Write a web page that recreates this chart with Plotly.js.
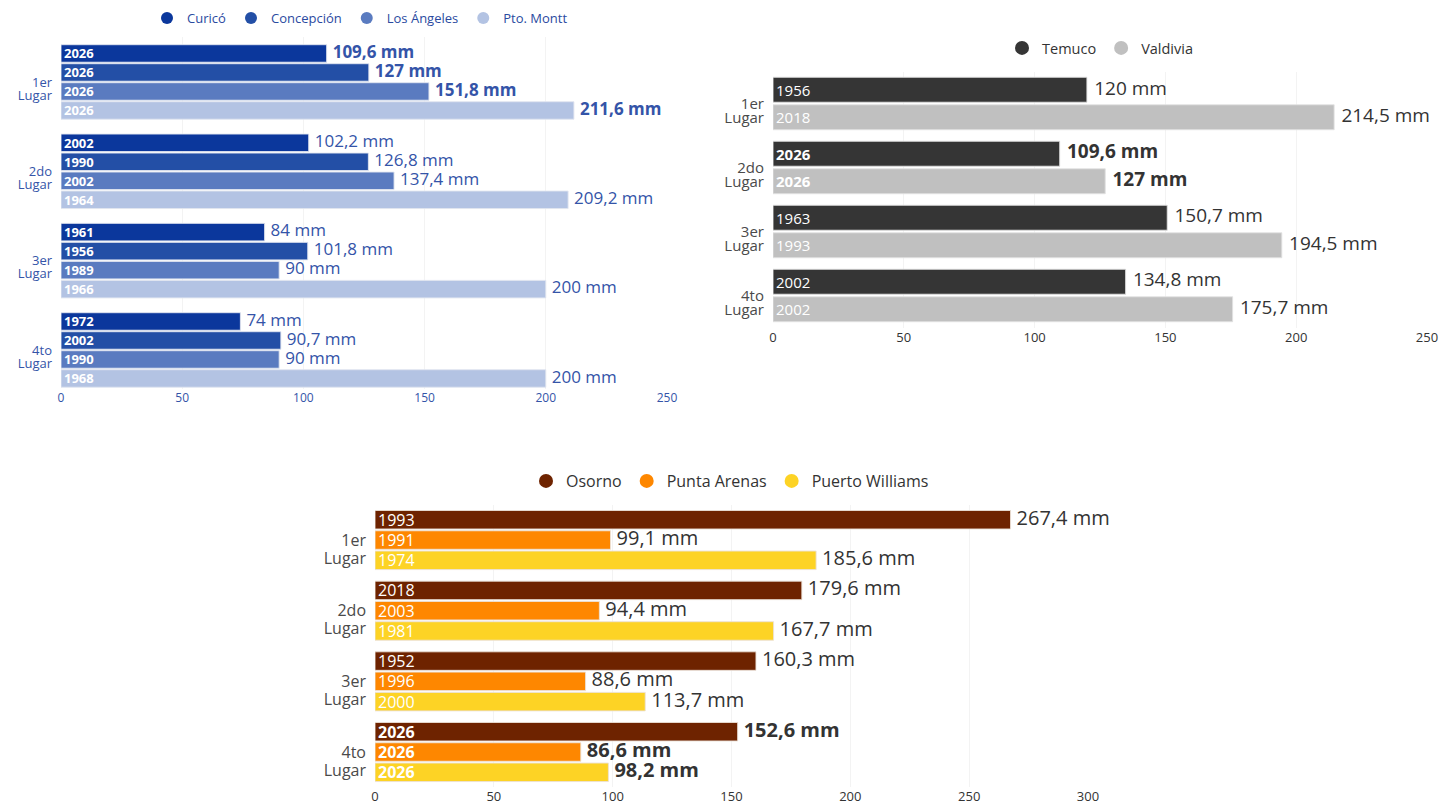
<!DOCTYPE html>
<html>
<head>
<meta charset="utf-8">
<script src="https://cdn.plot.ly/plotly-3.0.1.min.js"></script>
<style>
  html, body { margin: 0; padding: 0; background: #fff; }
  #chart { width: 1454px; height: 805px; }
</style>
</head>
<body>
<div id="chart"></div>
<script>
// Ranking positions shared by the three panels ("1er Lugar", "2do Lugar", ...)
const ordinales = ['1er', '2do', '3er', '4to'];
const lugar = ['Lugar', 'Lugar', 'Lugar', 'Lugar'];

// Panel A: central-south cities (mm and year of each record)
const curicoMm = [109.6, 102.2, 84, 74];
const curicoAnio = ['2026', '2002', '1961', '1972'];
const concepcionMm = [127, 126.8, 101.8, 90.7];
const concepcionAnio = ['2026', '1990', '1956', '2002'];
const losAngelesMm = [151.8, 137.4, 90, 90];
const losAngelesAnio = ['2026', '2002', '1989', '1990'];
const ptoMonttMm = [211.6, 209.2, 200, 200];
const ptoMonttAnio = ['2026', '1964', '1966', '1968'];

// Panel B: Araucanía / Los Ríos
const temucoMm = [120, 109.6, 150.7, 134.8];
const temucoAnio = ['1956', '2026', '1963', '2002'];
const valdiviaMm = [214.5, 127, 194.5, 175.7];
const valdiviaAnio = ['2018', '2026', '1993', '2002'];

// Panel C: southern cities
const osornoMm = [267.4, 179.6, 160.3, 152.6];
const osornoAnio = ['1993', '2018', '1952', '2026'];
const puntaArenasMm = [99.1, 94.4, 88.6, 86.6];
const puntaArenasAnio = ['1991', '2003', '1996', '2026'];
const puertoWilliamsMm = [185.6, 167.7, 113.7, 98.2];
const puertoWilliamsAnio = ['1974', '1981', '2000', '2026'];

const ticksAB = [0, 50, 100, 150, 200, 250];
const ticksC = [0, 50, 100, 150, 200, 250, 300];

const FONT = 'Open Sans, Lato, sans-serif';
const W = 1454, H = 805;

const traces = [];

function mmLabel(v) {
  return String(v).replace('.', ',') + ' mm';
}

// ax.y: axis holding the bars (and the ordinal labels);
// ax.y2: overlaid axis that carries the second label line and the legend swatches
function addPanel(series, ax, legendId, o) {
  const n = series.length;
  series.forEach((s, i) => {
    const off = (i - (n - 1) / 2) * o.step;
    const ys = s.mm.map((_, k) => k + off);
    const isNew = s.anio.map(a => a === '2026');
    traces.push({
      type: 'bar', orientation: 'h',
      x: s.mm, y: ys, width: o.width,
      xaxis: ax.x, yaxis: ax.y,
      marker: { color: s.color, line: { color: o.edge, width: 1 } },
      text: s.anio.map((a, k) => (o.allBoldYears || isNew[k]) ? '<b>' + a + '</b>' : a),
      textposition: 'inside', insidetextanchor: 'start', textangle: 0,
      constraintext: 'none',
      insidetextfont: { family: FONT, size: o.yearSize, color: '#ffffff' },
      showlegend: false, hoverinfo: 'skip'
    });
    traces.push({
      type: 'scatter', mode: 'markers+text',
      x: s.mm, y: ys,
      xaxis: ax.x, yaxis: ax.y,
      marker: { size: o.gap, color: 'rgba(0,0,0,0)' },
      text: s.mm.map((v, k) => isNew[k] ? '<b>' + mmLabel(v) + '</b>' : mmLabel(v)),
      textposition: 'middle right',
      textfont: { family: FONT, size: o.valueSize, color: o.valueColor },
      cliponaxis: false, showlegend: false, hoverinfo: 'skip'
    });
    traces.push({
      type: 'scatter', mode: 'markers', x: [null], y: [null],
      xaxis: ax.x, yaxis: ax.y2,
      name: s.name, legend: legendId,
      marker: { color: s.color, size: o.legendMarker, symbol: 'circle' },
      hoverinfo: 'skip'
    });
  });
}

addPanel([
  { name: 'Curicó', mm: curicoMm, anio: curicoAnio, color: '#0b379c' },
  { name: 'Concepción', mm: concepcionMm, anio: concepcionAnio, color: '#234fa6' },
  { name: 'Los Ángeles', mm: losAngelesMm, anio: losAngelesAnio, color: '#5a7bc0' },
  { name: 'Pto. Montt', mm: ptoMonttMm, anio: ptoMonttAnio, color: '#b3c3e3' }
], { x: 'x', y: 'y', y2: 'y4' }, 'legend', {
  step: 0.2127, width: 0.196, yearSize: 13, valueSize: 17, gap: 8,
  valueColor: '#3454a8', allBoldYears: true, edge: 'rgba(225,230,240,0.9)', legendMarker: 12
});

addPanel([
  { name: 'Temuco', mm: temucoMm, anio: temucoAnio, color: '#353535' },
  { name: 'Valdivia', mm: valdiviaMm, anio: valdiviaAnio, color: '#c0c0c0' }
], { x: 'x2', y: 'y2', y2: 'y5' }, 'legend2', {
  step: 0.43, width: 0.39, yearSize: 15, valueSize: 19, gap: 10,
  valueColor: '#333333', allBoldYears: false, edge: 'rgba(225,225,225,0.9)', legendMarker: 14
});

addPanel([
  { name: 'Osorno', mm: osornoMm, anio: osornoAnio, color: '#6e2300' },
  { name: 'Punta Arenas', mm: puntaArenasMm, anio: puntaArenasAnio, color: '#fe8700' },
  { name: 'Puerto Williams', mm: puertoWilliamsMm, anio: puertoWilliamsAnio, color: '#fdd325' }
], { x: 'x3', y: 'y3', y2: 'y6' }, 'legend3', {
  step: 0.287, width: 0.262, yearSize: 16, valueSize: 20, gap: 8,
  valueColor: '#333333', allBoldYears: false, edge: 'rgba(235,225,215,0.9)', legendMarker: 14
});

function xAxis(domain, range, ticks, size, color, anchor) {
  return {
    domain: domain, range: range, anchor: anchor,
    tickvals: ticks, ticktext: ticks.map(String),
    ticks: '', showline: false, zeroline: false,
    showgrid: true, gridcolor: '#f3f3f3', gridwidth: 1,
    tickfont: { family: FONT, size: size, color: color }, fixedrange: true
  };
}
function yAxis(domain, range, size, color, anchor, labels, shift) {
  return {
    domain: domain, range: range, anchor: anchor,
    tickvals: [0, 1, 2, 3], ticktext: labels,
    ticks: '', showline: false, zeroline: false, showgrid: false,
    ticklabelstandoff: 8, ticklabelshift: shift,
    tickfont: { family: FONT, size: size, color: color }, fixedrange: true
  };
}
// second line of each category label, set just below the ordinal
function overlayAxis(base, over, lineGap) {
  return Object.assign({}, base, { overlaying: over, ticklabelshift: -lineGap, ticktext: lugar });
}

const yA = yAxis([1 - 389 / H, 1 - 37.3 / H], [3.437, -0.5], 13, '#3454a8', 'x', ordinales, 0);
const yB = yAxis([1 - 327.5 / H, 1 - 71.5 / H], [3.5, -0.5], 15, '#4a4a4a', 'x2', ordinales, 0);
const yC = yAxis([1 - 787 / H, 1 - 504.7 / H], [3.495, -0.5], 16, '#4a4a4a', 'x3', ordinales, 0);

function legendBox(xc, yc, size, color) {
  return {
    orientation: 'h', x: xc / W, xanchor: 'center', y: 1 - yc / H, yanchor: 'middle',
    itemwidth: 30, bgcolor: 'rgba(0,0,0,0)',
    font: { family: FONT, size: size, color: color }
  };
}

const layout = {
  width: W, height: H,
  margin: { l: 0, r: 0, t: 0, b: 0 },
  paper_bgcolor: '#ffffff', plot_bgcolor: '#ffffff',
  font: { family: FONT },
  showlegend: true,
  xaxis: xAxis([61 / W, 667 / W], [0, 250], ticksAB, 12, '#3454a8', 'y'),
  yaxis: yA,
  xaxis2: xAxis([773 / W, 1427 / W], [0, 250], ticksAB, 13, '#333333', 'y2'),
  yaxis2: yB,
  xaxis3: xAxis([375 / W, 1088 / W], [0, 300], ticksC, 13, '#333333', 'y3'),
  yaxis3: yC,
  yaxis4: overlayAxis(yA, 'y', 13),
  yaxis5: overlayAxis(yB, 'y2', 14),
  yaxis6: overlayAxis(yC, 'y3', 18),
  legend: legendBox(360, 18, 13, '#2a4aa0'),
  legend2: legendBox(1100, 48, 14.5, '#333333'),
  legend3: legendBox(730, 481, 16, '#333333')
};

Plotly.newPlot('chart', traces, layout, { displayModeBar: false, staticPlot: true });
</script>
</body>
</html>
